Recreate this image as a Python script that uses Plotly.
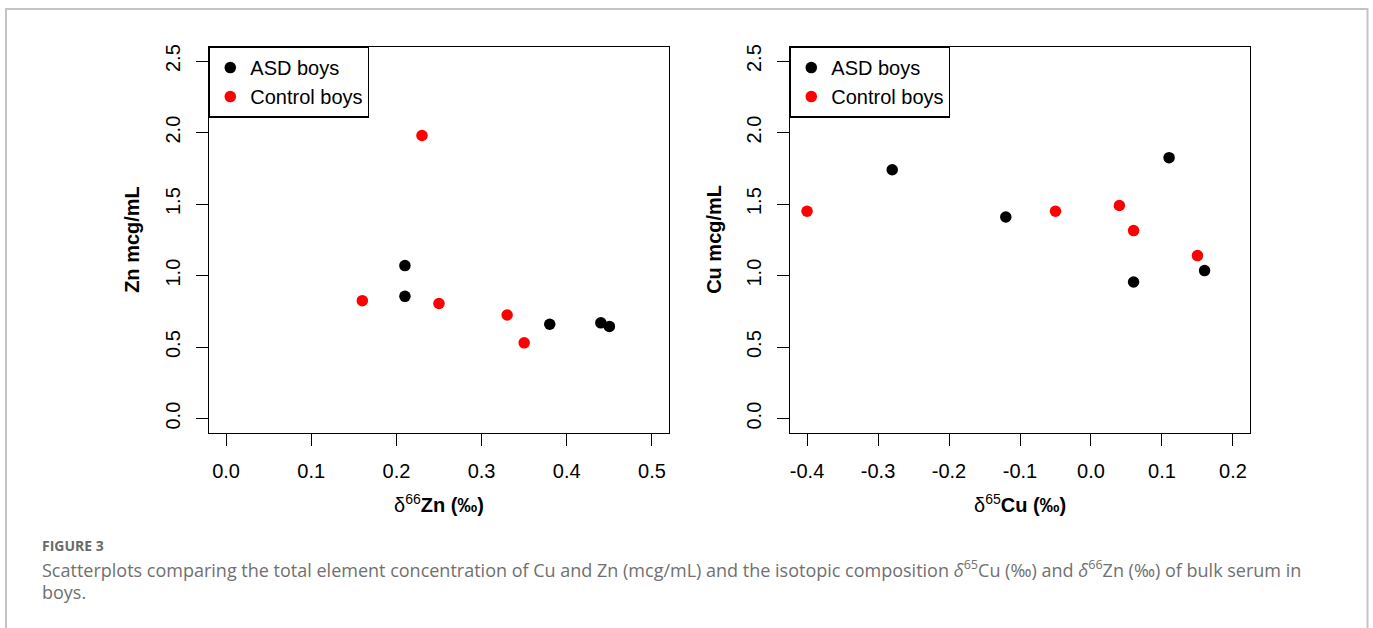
import plotly.graph_objects as go

# ---------------- data ----------------
zn_asd_x = [0.21, 0.21, 0.38, 0.44, 0.45]
zn_asd_y = [1.07, 0.855, 0.66, 0.67, 0.645]
zn_ctl_x = [0.16, 0.23, 0.25, 0.33, 0.35]
zn_ctl_y = [0.825, 1.98, 0.805, 0.725, 0.53]

cu_asd_x = [-0.28, -0.12, 0.06, 0.11, 0.16]
cu_asd_y = [1.74, 1.41, 0.955, 1.825, 1.035]
cu_ctl_x = [-0.40, -0.05, 0.04, 0.06, 0.15]
cu_ctl_y = [1.45, 1.45, 1.49, 1.315, 1.14]

series_names = ["ASD boys", "Control boys"]
y_tickvals = [0.0, 0.5, 1.0, 1.5, 2.0, 2.5]
y_ticktext = ["0.0", "0.5", "1.0", "1.5", "2.0", "2.5"]
zn_x_tickvals = [0.0, 0.1, 0.2, 0.3, 0.4, 0.5]
zn_x_ticktext = ["0.0", "0.1", "0.2", "0.3", "0.4", "0.5"]
cu_x_tickvals = [-0.4, -0.3, -0.2, -0.1, 0.0, 0.1, 0.2]
cu_x_ticktext = ["-0.4", "-0.3", "-0.2", "-0.1", "0.0", "0.1", "0.2"]

W, H = 1373, 628
FONT = "Liberation Sans, Arial, Helvetica, sans-serif"
CAP_FONT = "Open Sans, Noto Sans, sans-serif"

def px_x(p):
    return p / W

def px_y(p):
    return (H - p) / H

# plot boxes in pixels
L_box = (209, 669)
R_box = (790, 1250)
T_box, B_box = 44, 432

fig = go.Figure()
mk = dict(size=11.5, line=dict(width=0))
fig.add_trace(go.Scatter(x=zn_asd_x, y=zn_asd_y, mode="markers", name=series_names[0],
                         marker=dict(color="black", **mk), xaxis="x", yaxis="y", legend="legend"))
fig.add_trace(go.Scatter(x=zn_ctl_x, y=zn_ctl_y, mode="markers", name=series_names[1],
                         marker=dict(color="#FF0000", **mk), xaxis="x", yaxis="y", legend="legend"))
fig.add_trace(go.Scatter(x=cu_asd_x, y=cu_asd_y, mode="markers", name=series_names[0],
                         marker=dict(color="black", **mk), xaxis="x2", yaxis="y2", legend="legend2"))
fig.add_trace(go.Scatter(x=cu_ctl_x, y=cu_ctl_y, mode="markers", name=series_names[1],
                         marker=dict(color="#FF0000", **mk), xaxis="x2", yaxis="y2", legend="legend2"))

axis_common = dict(showgrid=False, zeroline=False, showline=True, mirror=True,
                   linecolor="black", linewidth=1.3, ticks="outside", ticklen=12,
                   tickwidth=1.1, tickcolor="black",
                   tickfont=dict(family=FONT, size=20, color="black"))

ydom = [px_y(B_box), px_y(T_box)]
legend_common = dict(y=px_y(T_box), xanchor="left", yanchor="top",
                     bordercolor="black", borderwidth=1.3, bgcolor="white",
                     font=dict(family=FONT, size=20, color="black"), itemwidth=30,
                     tracegroupgap=0)
fig.update_layout(
    width=W, height=H,
    margin=dict(l=0, r=0, t=0, b=0),
    paper_bgcolor="white", plot_bgcolor="white",
    showlegend=True,
    xaxis=dict(domain=[px_x(L_box[0]), px_x(L_box[1])], range=[-0.02, 0.52],
               tickvals=zn_x_tickvals, ticktext=zn_x_ticktext, anchor="y",
               ticklabelstandoff=8, **axis_common),
    yaxis=dict(domain=ydom, range=[-0.1, 2.6], tickvals=y_tickvals, ticktext=y_ticktext,
               tickangle=-90, anchor="x", ticklabelstandoff=8, **axis_common),
    xaxis2=dict(domain=[px_x(R_box[0]), px_x(R_box[1])], range=[-0.424, 0.224],
                tickvals=cu_x_tickvals, ticktext=cu_x_ticktext, anchor="y2",
                ticklabelstandoff=8, **axis_common),
    yaxis2=dict(domain=ydom, range=[-0.1, 2.6], tickvals=y_tickvals, ticktext=y_ticktext,
                tickangle=-90, anchor="x2", ticklabelstandoff=8, **axis_common),
    legend=dict(x=px_x(L_box[0]), **legend_common),
    legend2=dict(x=px_x(R_box[0]), **legend_common),
)

annotations = []
# x axis titles
annotations.append(dict(x=px_x((L_box[0] + L_box[1]) / 2), y=px_y(503), xref="paper", yref="paper",
                        text="δ<sup>66</sup><b>Zn (‰)</b>", showarrow=False,
                        font=dict(family=FONT, size=20, color="black"), xanchor="center", yanchor="middle"))
annotations.append(dict(x=px_x((R_box[0] + R_box[1]) / 2), y=px_y(503), xref="paper", yref="paper",
                        text="δ<sup>65</sup><b>Cu (‰)</b>", showarrow=False,
                        font=dict(family=FONT, size=20, color="black"), xanchor="center", yanchor="middle"))
# y axis titles
annotations.append(dict(x=px_x(132), y=px_y((T_box + B_box) / 2), xref="paper", yref="paper",
                        text="<b>Zn mcg/mL</b>", showarrow=False, textangle=-90,
                        font=dict(family=FONT, size=20, color="black"), xanchor="center", yanchor="middle"))
annotations.append(dict(x=px_x(714), y=px_y((T_box + B_box) / 2), xref="paper", yref="paper",
                        text="<b>Cu mcg/mL</b>", showarrow=False, textangle=-90,
                        font=dict(family=FONT, size=20, color="black"), xanchor="center", yanchor="middle"))
# caption
annotations.append(dict(x=px_x(40), y=px_y(545), xref="paper", yref="paper",
                        text="<b>FIGURE 3</b>", showarrow=False,
                        font=dict(family=CAP_FONT, size=14, color="#6a6a6a"), xanchor="left", yanchor="middle"))
annotations.append(dict(x=px_x(40), y=px_y(569), xref="paper", yref="paper",
                        text="Scatterplots comparing the total element concentration of Cu and Zn (mcg/mL) and the isotopic composition "
                             "<i>δ</i><sup>65</sup>Cu (‰) and <i>δ</i><sup>66</sup>Zn (‰) of bulk serum in",
                        showarrow=False,
                        font=dict(family=CAP_FONT, size=18, color="#707070"), xanchor="left", yanchor="middle"))
annotations.append(dict(x=px_x(40), y=px_y(592), xref="paper", yref="paper",
                        text="boys.", showarrow=False,
                        font=dict(family=CAP_FONT, size=18, color="#707070"), xanchor="left", yanchor="middle"))
fig.update_layout(annotations=annotations)

# outer frame
fig.add_shape(type="rect", xref="paper", yref="paper",
              x0=px_x(6), x1=px_x(1367.5), y0=px_y(700), y1=px_y(6),
              line=dict(color="#c4c4c4", width=2), fillcolor="rgba(0,0,0,0)", layer="below")

fig.write_html("out.html",
               config={"displayModeBar": False},
               post_script="document.body.style.margin='0';document.body.style.overflow='hidden';")
